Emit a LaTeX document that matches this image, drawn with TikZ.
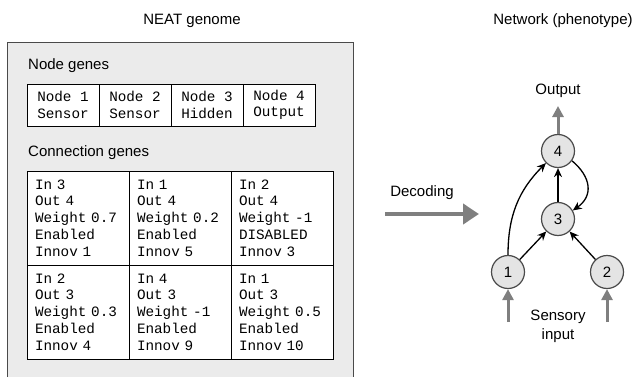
\documentclass[tikz,border=0pt]{standalone}
\usepackage{fontspec}
\setmainfont{Liberation Sans}
\newfontfamily\monof{Liberation Mono}
\usetikzlibrary{arrows.meta}
\definecolor{boxfill}{HTML}{EBEBEB}
\definecolor{boxline}{HTML}{4A4A4A}
\definecolor{nodefill}{HTML}{E4E4E4}
\definecolor{arrgray}{HTML}{7F7F7F}
\tikzset{
  lbl/.style={font=\fontsize{15}{18}\selectfont, inner sep=0pt},
  ngcell/.style={draw=black, line width=0.8pt, fill=white, minimum width=72pt, minimum height=42pt, inner sep=0pt, align=center, font=\monof\fontsize{14.3}{16.5}\selectfont},
  cgcell/.style={draw=black, line width=0.8pt, fill=white, minimum width=102pt, minimum height=94pt, inner sep=0pt, text width=86pt, align=left, font=\monof\fontsize{14.3}{16.8}\selectfont},
  neuron/.style={circle, draw=boxline, line width=1.2pt, fill=nodefill, minimum size=33pt, inner sep=0pt, font=\fontsize{15}{18}\selectfont},
  conn/.style={line width=1.3pt, -{Stealth[length=9pt,width=8pt]}},
  grayarr/.style={draw=arrgray, line width=3pt, -{Triangle[length=11pt,width=11pt]}},
}
\begin{document}
\begin{tikzpicture}[x=1pt,y=-1pt]
\useasboundingbox (0,0) rectangle (636,377);
% titles
\node[lbl] (t1) at (192,21) {NEAT genome};
\node[lbl] (t2) at (563,21) {Network (phenotype)};
% outer box
\fill[boxfill] (7,43) rectangle (353,377);
\draw[boxline, line width=1pt] (7,377) -- (7,43) -- (353,43) -- (353,377);
\node[lbl, anchor=west] (ng) at (28,66) {Node genes};
% node genes
\node[ngcell] (g1) at (63,105) {Node 1\\Sensor};
\node[ngcell] (g2) at (135,105) {Node 2\\Sensor};
\node[ngcell] (g3) at (207,105) {Node 3\\Hidden};
\node[ngcell] (g4) at (279,105) {Node 4\\Output};
\node[lbl, anchor=west] (cg) at (28,153) {Connection genes};
% connection genes
\node[cgcell] (c1) at (78,218) {In 3\\Out 4\\Weight 0.7\\Enabled\\Innov 1};
\node[cgcell] (c2) at (180,218) {In 1\\Out 4\\Weight 0.2\\Enabled\\Innov 5};
\node[cgcell] (c3) at (282,218) {In 2\\Out 4\\Weight -1\\DISABLED\\Innov 3};
\node[cgcell] (c4) at (78,312) {In 2\\Out 3\\Weight 0.3\\Enabled\\Innov 4};
\node[cgcell] (c5) at (180,312) {In 4\\Out 3\\Weight -1\\Enabled\\Innov 9};
\node[cgcell] (c6) at (282,312) {In 1\\Out 3\\Weight 0.5\\Enabled\\Innov 10};
% decoding
\node[lbl] (dec) at (422,193) {Decoding};
\coordinate (d0) at (385,214);
\coordinate (d1) at (479,214);
\draw[draw=arrgray, line width=4.5pt, -{Triangle[length=16pt,width=20pt]}] (d0) -- (d1);
% network
\node[neuron] (n4) at (558,151) {4};
\node[neuron] (n3) at (558,219) {3};
\node[neuron] (n1) at (508,272) {1};
\node[neuron] (n2) at (607,272) {2};
\node[lbl] (out) at (558,91) {Output};
\coordinate (o1) at (558,106);
\draw[grayarr] (n4) -- (o1);
\coordinate (i1) at (508,322);
\coordinate (i2) at (607,322);
\draw[grayarr] (i1) -- (n1);
\draw[grayarr] (i2) -- (n2);
\node[lbl, align=center, font=\fontsize{15}{19}\selectfont] (sens) at (558,326) {Sensory\\input};
\draw[conn] (n3) -- (n4);
\draw[conn] (n1) -- (n3);
\draw[conn] (n2) -- (n3);
\draw[conn] (n1.90) to[out=90,in=225] (n4);
\draw[conn] (n4.-35) to[out=-40,in=35,looseness=1.3] (n3.30);
\end{tikzpicture}
\end{document}
